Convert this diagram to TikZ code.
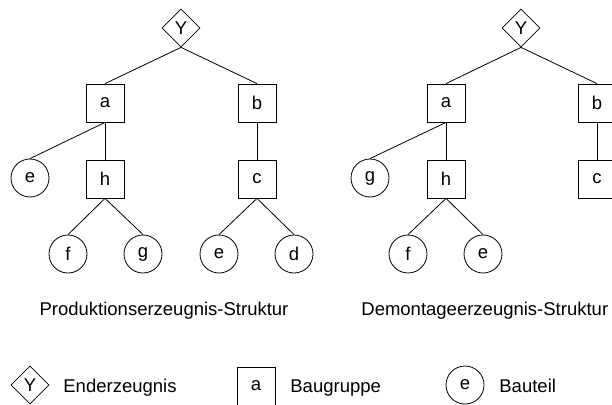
\documentclass[tikz,border=0pt]{standalone}
\usepackage{fontspec}
\setmainfont{Liberation Sans}
\usetikzlibrary{shapes}
\usetikzlibrary{positioning}

\begin{document}
\begin{tikzpicture}[x=1pt,y=-1pt,line width=0.8pt,
  every node/.style={font=\fontsize{18.5}{22}\selectfont},
  erz/.style={draw,diamond,aspect=1,inner sep=0pt,minimum size=38pt},
  grp/.style={draw,rectangle,inner sep=0pt,minimum size=38pt},
  teil/.style={draw,circle,inner sep=0pt,minimum size=38pt}]

\clip (0,0) rectangle (612,404);

\node[erz] (pY) at (181,28) {Y};
\node[grp] (pa) at (105,103) {a};
\node[grp] (pb) at (257,103) {b};
\node[teil] (pe) at (30,178) {e};
\node[grp] (ph) at (105,179) {h};
\node[grp] (pc) at (257,179) {c};
\node[teil] (pf) at (68,254) {f};
\node[teil] (pg) at (143,254) {g};
\node[teil] (pe2) at (219,254) {e};
\node[teil] (pd) at (294,254) {d};

\draw (pY.south) -- (pa.north);
\draw (pY.south) -- (pb.north);
\draw (pa.south) -- (pe.north);
\draw (pa.south) -- (ph.north);
\draw (pb.south) -- (pc.north);
\draw (ph.south) -- (pf.north);
\draw (ph.south) -- (pg.north);
\draw (pc.south) -- (pe2.north);
\draw (pc.south) -- (pd.north);

\node[erz] (dY) at (521,28) {Y};
\node[grp] (da) at (446,103) {a};
\node[grp] (db) at (597,103) {b};
\node[teil] (dg) at (370,178) {g};
\node[grp] (dh) at (446,179) {h};
\node[grp] (dc) at (597,179) {c};
\node[teil] (df) at (408,254) {f};
\node[teil] (de) at (483,254) {e};

\draw (dY.south) -- (da.north);
\draw (dY.south) -- (db.north);
\draw (da.south) -- (dg.north);
\draw (da.south) -- (dh.north);
\draw (db.south) -- (dc.north);
\draw (dh.south) -- (df.north);
\draw (dh.south) -- (de.north);

\node[anchor=base] (ptitel) at (164,315) {Produktionserzeugnis-Struktur};
\node[anchor=base west,inner sep=0pt] (dtitel) at (361,315) {Demontageerzeugnis-Struktur};

% Legende
\node[erz] (lY) at (30,385) {Y};
\node[anchor=base west,inner sep=0pt] (lYtext) at (63,392) {Enderzeugnis};
\node[grp] (la) at (256,386) {a};
\node[anchor=base west,inner sep=0pt] (latext) at (290,392) {Baugruppe};
\node[teil] (le) at (465,385) {e};
\node[anchor=base west,inner sep=0pt] (letext) at (499,392) {Bauteil};
\end{tikzpicture}
\end{document}
